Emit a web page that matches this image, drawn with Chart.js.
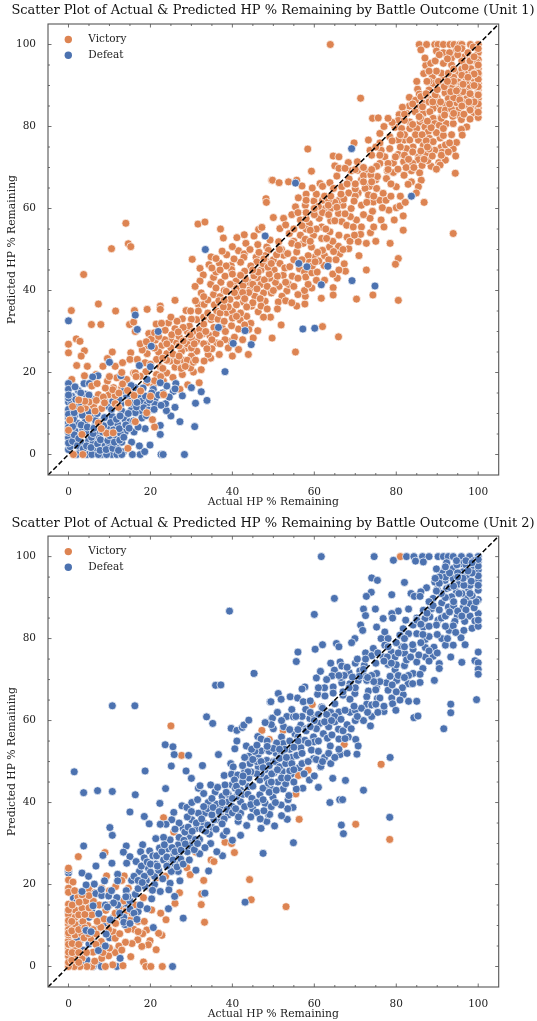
<!DOCTYPE html>
<html>
<head>
<meta charset="utf-8">
<script src="https://cdn.jsdelivr.net/npm/chart.js@4"></script>
<style>
	html, body { margin: 0; padding: 0; background: #fff; }
	canvas { position: absolute; left: 0; }
	#chart1 { top: 0; }
	#chart2 { top: 510px; }
</style>
</head>
<body>
<canvas id="chart1" width="537" height="511"></canvas>
<canvas id="chart2" width="537" height="511"></canvas>
<script>
const tickLabels = [0, 20, 40, 60, 80, 100];
const legendLabels = ['Victory', 'Defeat'];
const diagonal = [[-5, -5], [105, 105]];

// [actual, predicted] pairs
const unit1Victory = [
[14,56.4],[31.6,56.2],[33.3,56.7],[37.1,55],[37.8,52.8],[41.1,52.9],[42.9,53.6],[43.3,51.5],[45.3,53.3],[46.2,51.2],[46.4,54.9],[47.2,55.4],[14.6,51.4],[15.2,50.7],[10.5,50.2],[41.5,49.7],[42.9,48.9],[42.8,48.1],[45.8,48.1],[30.2,47.6],[48.4,50.6],[48.8,49.8],[48.2,62.4],[48.3,61.5],[49.6,66.9],
[63.9,100],[85.6,100],[87.4,100],[89.4,100],[90.2,100],[91.5,100],[93.1,100],[94.1,100],[95.5,100],[96,100],[98.1,100],[100,100],[86,98.7],[89.8,98.4],[91.5,98],[94.6,98.4],[100,98],[98.8,99.4],[93.5,96.7],[96.7,97],[100,96.3],[98.8,96.2],[87.2,94.9],[88.4,95.4],[86.7,92.9],[91.5,95.4],[93.5,95],[97.2,95.4],[99.6,95.7],[95.1,93.3],[97.2,93.3],[100,94.1],[98.2,94.1],[88.8,92],[89,90.5],[91.5,91.7],[93.1,91.7],[95.1,90.9],[97.2,91.3],[100,92.5],[98.8,91.7],[100,90.5],[97.6,89.3],[95.9,90.1],[93.5,89.7],[100,88.9],[85.2,89.1],[85.6,87.9],[88,88.9],[91.9,88.2],[95.5,88],[98.9,87.6],[100,86.8],[97.2,86.8],[94.7,85.8],[92.7,86.8],[83.2,87.1],[84.7,86.4],[88,86.7],[86.7,85.6],[83.2,85],[85.4,84.6],[89.8,85],[92,85.2],[97.2,85.2],[95.1,84],[71.3,86.9],[74.2,82],[75.6,82.1],[80.7,82.9],[82.5,83.2],[84.6,83.6],[86.6,83.2],[89,84.4],[88.2,83.6],[90.9,84],[89,82],[90.9,82.2],[95,82.8],[99,83.3],[100,82.2],[95.9,81.7],[80.5,81.5],[83.3,81.1],[85.8,81.1],[89.4,80.7],[92.2,80.7],[93.9,80.7],[90.5,80.3],[97.2,79.9],[95.9,79.3],[96.1,77.9],[93.5,78],[87,79.9],[87.8,78.7],[79.7,79.8],[81.3,79.5],[83.3,79.5],[85,79.5],[76,78.3],[78.4,77.5],[73.2,76.7],[69.7,76],[58.4,74.5],[82,76.7],[80.5,76.7],[83.3,76.7],[85.4,76.7],[88.1,77.1],[90.7,77.2],[89,76.3],[94.7,76.1],[84.1,75],[86.6,75.4],[90.9,74.9],[89.4,74.2],[93.9,74.5],[91.2,73.7],[94.5,72.8],[87.3,73.4],[85.4,72.6],[82.5,74.6],[80.5,73.2],[78.4,74.6],[76.3,74.2],[77.2,72.6],[73.6,74.2],[74,73],[64.6,72.8],[66,72.6],[68.3,71.2],[70.5,71.4],[65,70.4],[66,69.8],[76,71],[75.2,70.3],[79.3,71.1],[81.8,71.4],[85.4,71.9],[88.5,70.3],[90.4,71.2],[92,71.8],[90.7,70.6],[89.8,69.6],[94.4,68.6],[59.3,69.1],[72.8,69],[70.6,69.3],[77.8,69.2],[79.3,68.8],[81.9,68.1],[83.7,69.2],[85.7,68.7],[86.1,66.9],[83.7,66.5],[82.9,65.9],[85.4,65.3],[84.9,63.8],[86.8,61.5],[49.8,66.9],[51.4,66.3],[53.7,66.5],[55.7,66.9],[61.4,66.1],[62,65.4],[63.8,66.3],[65.5,67.9],[68.5,67.2],[71.5,67],[73.5,65.4],[75.2,64.9],[77.6,67.3],[80,65.3],[76.8,63.7],[66.7,65.3],[64.7,64.9],[68.4,63.8],[70.7,63.8],[72.4,64.9],[73.2,63.3],[56.1,62.6],[57.8,60.8],[59.9,61.8],[55.4,60.4],[62.6,60],[64,60],[67,60.8],[69,60],[71.5,60.8],[74.4,61.6],[76,62],[74.2,59.3],[78.2,59.6],[76.6,60.2],[80,60.2],[80.9,60.6],[81.7,58.2],[79.5,57.2],[76.3,57.2],[73.6,57.6],[70.3,57.2],[65.9,58.8],[68.8,58],[50,57.8],[52.5,57.6],[56.6,57.2],[61.2,57.6],[58.8,56.3],[64,57],[66.7,56.8],[67.9,55.9],[71.5,55.5],[61.8,55.5],[81.7,54.7],[73.7,54.1],[71.3,53.7],[93.9,53.9],[63.8,54.3],[53.9,53.9],[51.6,55.1],[56.6,53.5],[59.8,53.5],[61.8,52.7],[65.9,50.8],[68.4,50.2],[63.7,50.6],[59.3,50.6],[57.3,51.5],[70.7,51.9],[78.5,51.5],[51.3,51.9],[49.2,52.3],[52.5,48.6],[55.7,49.4],[60.2,48.2],[66.2,48.9],[70.9,48.5],[80.5,47.8],
[67.3,46.5],[67.6,44.7],[72.7,45],[79.8,46.4],[65.6,43],[64.6,40.7],[64.6,38.9],[74.3,38.9],[61.7,38.1],[70.3,37.9],[80.5,37.6],[59.4,40.6],[57.7,36.7],[57.8,38.6],[57.6,40],[55.7,36.2],[53.3,39.9],[52.1,38.6],[51.2,37.2],[49.5,39.4],[51.4,41],[50.5,42],[53.7,41.5],[54.6,43.5],[52.4,43.7],[50.2,45],[49.1,43],[51.6,46.6],[56.4,45.3],[57.6,44.5],[57.9,43.3],[59.4,44.3],[60.7,44.5],[62.4,46.1],[61.1,47.2],[56.4,47.2],[49.3,33.5],[51.9,31.6],[49.7,28.4],[62,31.2],[65.9,28.7],[55.4,25],
[3.7,43.9],[7.3,36.7],[0.7,35.1],[11.5,35],[5.6,31.7],[7.9,31.7],[0,26.9],[0,24.8],[1.9,28.2],[2.8,27.6],[3.9,25.3],[3.1,24],[2,21.7],[4.6,21.5],[10.7,25],[9.5,23.4],[8.4,21.5],[11.4,21.5],[13.2,22.4],[15.2,24.8],[15,23.2],[16.8,23.2],[16.1,35.1],[14.9,31.7],[15.9,32.3],[16.3,30],[19.2,35.4],[22.4,36.2],[22.4,35.4],[26,37.6],[19.6,29.5],[21.4,31.8],[32.1,45.4],[32.9,43.8],[34.3,46.3],[32.1,42.3],[30.9,41],[32.4,39.4],[34.7,41.5],[35.4,43.2],[37.2,42],[38.2,43.5],[39.7,46.1],[42,46.9],[39.8,45.1],[40.9,42.3],[43,44.7],[46.2,43.1],[44.3,40.2],[41.9,39.4],[35.4,39],[37,38.5],[39.4,37.8],[41.2,38.6],[45.5,38.6],[47.6,39.4],[48,37.4],[42.7,37.2],[44.7,36.2],[46.3,34.8],[47.6,33.5],[43.5,33.7],[41.9,32.8],[46.2,30.2],[45.1,28.4],[41.5,30.6],[43.9,24.4],[40,24],[39.6,27.6],[38.2,28],[39.8,31.4],[36.8,24.4],[34.7,23.5],[34.1,24.4],[33.1,22.8],[32.4,20.7],[30.5,20.1],[29.8,21.1],[31.9,17.5],[29.1,17],[27.8,19.5],[27.2,15.9],
[0.8,18.3],[3.9,19.2],[6.7,19.5],[9.5,17.9],[11,16.3],[11.8,18.7],[13.8,17.9],[15.9,19.9],[18.9,20.2],[0,10.6],[1.6,11.4],[19.2,24.6],[21.2,27.9],[22.8,26.6],[25,28],[26.4,27.2],[24.4,32.1],[26,30.7],[23.6,30.3],[27.8,33.1],[28.7,35.1],[31.3,32.9],[31.7,36.6],[33.1,36.6],[31.7,35],[36.2,35],[38.6,34.6],[34.8,32.9],[32.9,29.5],[34.5,29],[31.3,27.6],[28.5,28],[28.8,26],[27.6,25.2],[31.3,25.2],[33.7,26.8],[36.2,27.2],[24,24.6],[21.5,23.2],[22.4,21.4],[26,21.3],[27.2,22.4],[24.8,22.8],[17.5,19.1],[16.3,19.9],[21.5,19.5],[24,19.9],[18.7,22.4],[23.2,17.9],[20.7,16.7],[14.2,18.3],[13,16.3],[15.4,15.4],[19.1,17.5],
[37.5,36.5],[40.5,41],[44,42],[47,45],[48.5,47],[47,41.5],[36,44.5],[30,33],[29,30],[33,33.5],[35.5,31],[37.5,31],[40,35],[44,39.5],[46,47],[38,40],[28,23],[30,24],[22,25],[20,22],[25,26],[52,50],[55,52],[58,55],[60,59],[62,62],[66,62],[70,63],[72,68],[75,67],[78,71],[82,78],[86,82],[88,86],[92,90],[94,92],[96,94],[98,97],[90,87],[94,87],[92,84],[98,90],[96,86],[99,85],[100,84.5],[88,91],[91,93],[93,98],[96,99],[99,93],[100,88],
[23,21],[24,23],[26,24],[27,26.5],[29,27],[30,28.5],[25.2,29.2],[27,28.8],[29.5,31.3],[30.5,30],[32,30.5],[33,31.8],[34,34.5],[35,33.5],[36.5,33],[37,34.5],[35.6,36.5],[34,37.7],[33,38.5],[36,40.6],[38.5,39.8],[39.5,41.5],[41,40.5],[42.6,41.2],[43.2,42.8],[45,41.5],[46,40.4],[47.8,42.6],[48.5,41],[46.8,38],[45,37],[43.5,36],[41,36.5],[39,36],[37.8,36],[38,32.5],[40,33.3],[42,34.5],[44.5,32],[36,29.5],[38.3,30],[40.5,28.6],[42.5,28],[44,30.5],[30,26],[33,27],[35,25.8],[29,23],[26.5,22.8],[23.5,28],[21,26],[19.5,26.5],[18,25.5],[17.5,27],[20.2,28.2],[22.7,32],[25,33.5],[26.5,32.5],[28,31],[29.8,35],[31,37.5],[34.8,48.2],[36.8,46.7],[38.6,48.7],[40.4,47.7],[44.5,46],[47.5,46.5],[49,44],[48,48.5],[46.5,49.3],[44.3,50],[37.5,49.6],[40,50.7],[36,47.8],
[50,47.5],[50.8,48.7],[52.8,45.5],[54,45.8],[55,47.5],[53.5,49],[51.5,50],[54.5,51.5],[56,51],[57.8,52.5],[58.5,48.5],[57,47.5],[58.8,46.9],[59.5,46],[60.2,47],[62.5,48.5],[63.5,47.5],[64.7,49.5],[65.3,47.5],[67,50],[68,53],[66,53.5],[64.5,52],[63,52.7],[62.8,55],[60.5,55],[59,54.7],[58,57.5],[55,55],[53,56],[54.5,58.5],[56,59],[58,59],[60,58.5],[62,59],[63.5,58.5],[65,57],[67.5,58.7],[69.5,55.5],[72,58.5],[74.5,55.5],[77,55.5],[75,52],[72.7,51.5],[68.7,52],[69.8,53.5],[65,61.5],[67.2,62.3],[69.7,61.8],[72.8,61.5],[70,64.8],[74.5,63],[77.5,62],[78.7,63],[78.7,66],[81,63],[82.2,61.5],[75.4,67.8],[73.8,68.2],[72,70],[69,69.2],[67.5,69.8],[62.5,63],[60.5,63.5],[63.5,62],[58,63.5],[57,65.5],[59.5,65],
[78,69.5],[80.4,69.6],[82.4,70],[84,71],[86.3,70.5],[87.7,71.7],[84,73.8],[86,74],[88,74.5],[82,73],[76,76],[79,76.5],[81,78],[84.7,78],[86.3,78],[87.3,76.5],[89.8,78.5],[91.5,77.8],[92,75.5],[88.5,79.7],[91,82],[87.6,81.3],[85.6,82.4],[82,81.5],[79,81],[77,80],[78,82],[81.5,84.7],[84,85.5],[86,87.3],[87.3,88],[89.5,87.7],[90.8,86],[93.3,88.5],[94,91],[96.3,88.5],[96,92.5],[98.3,92.5],[92.7,93],[90.3,91],[91.7,89.7],[96,96],[92.5,96.5],[95,97.5],[97.5,98],[89.5,96],[100,99],[100,95],[100,93],[100,91.5],[100,89.7],[100,87.7],[100,85.5],[100,83.5],[99,86],[98,84],[96.5,83],[98,81.8],[93.5,84.2],[93.8,82.5],[91.8,82.8],[97,91],[99,90],[99,92.8],[95,89],[96.8,94.5],[98,96],[94,94],[87,96.7],
[21,18],[22.5,19],[25.5,18.8],[27.5,21],[28.5,21.5],[30.5,22.5],[31,23],[19,27.5],[21,29.7],[23,23.5],[25.5,24.5],[27,24],[28,27.7],[29.7,29.2],[30.7,27],[32,29],[33.5,30],[24,27],[22,28.8],[26.8,29.9],
[36.7,37.5],[38,37.6],[40.5,39.5],[42.5,39.5],[43,38],[45.3,43.6],[46.3,44.5],[48.7,45.7],[49.5,46.6],[47.7,47.7],[45,45],[42,43.7],[40,44],[38.5,46],[37,45],[35,45.5],[41,33.7],[43,31.6],[37,27],[35,28],[33.8,25.8],[39,26],[41.5,25.6],[47,36.2],[48.5,35.5],
[50,40],[51,43.5],[53,42],[55,41],[56,39],[56,43],[53,37.5],[51,35.5],[54.5,37],[58.5,41.5],[60.5,42.5],[62.5,42.5],[64.5,44],[66,45],[62,49.8],[60.8,49.3],[57,55.8],[59,52],[61,60.5],[63.4,60.8],[65.5,60.3],[58,62],[60,60],[66.5,63.5],[64,63],
[68,66],[70,66],[72,66.5],[74,66.5],[70,69.5],[74,69.5],[76,73],[75,75],[79.8,72.6],[81,75],[83,72],[84.3,70],[86.8,72],[88.8,72.8],[87.6,75],[84,80.5],[82,83],[86.4,84.8],[91.5,79.5],[93,76],[91,73],[92.7,73.8],
[88.9,86],[90,89],[93,85.5],[95.5,86.5],[94.7,88.7],[92.5,91],[89.8,93.5],[88,93.5],[87.5,91],[85,91],[90.5,97.5],[95,99],[99,97],[97.5,92],[96.3,90.3],[98,88],[97.7,86],[96,85],[94,83.2]
];
const unit1Defeat = [
[48,53.3],[33.4,50],[69.1,74.6],[55.4,66.2],[83.7,63],[61.7,41.4],[69.2,42.4],[74.8,41.1],[57.2,30.6],[60.1,30.8],[63.3,45.9],[58.2,45.8],[56.2,46.6],
[0,32.6],[16.3,34],[16.8,30.5],[21.9,30],[20.2,26.4],[36.6,31],[43.1,30.2],[44.6,26.8],[40.2,27.1],[38.2,20.2],[10,22.5],[17.3,21.7],[20,21.4],[12.8,19.2],[7.2,19.2],[5.9,18.9],[0,17.3],[3.8,17.3],[5.1,17.3],[2.4,15.6],[4.2,14.7],[0,15.9],[0,12.8],[2.4,11.7],[0,8.9],[0,7.7],[2.2,7.6],[4.2,8.3],[0,4.1],[0,1.2],[2.8,0.8],[4.9,3.3],[6.3,0.8],[7.3,4.5],[8.9,2.3],[10.6,0],[11.8,0],[13.4,0.7],[15.6,0],[17.5,0],[18.6,0.7],[17.3,2.1],[19.9,2.3],[22.6,0],[23.1,0],[28.3,0],[22.4,4.9],[22.4,7.1],[30.8,6.8],[27.2,8],[25,9.4],[23.9,10.7],[23.7,12.4],[26,11.5],[31,12.5],[33.8,13.2],[32.4,15.3],[30,16.3],[27.8,14.3],[26.2,17.3],[24,16.7],[22.4,17.5],[25.6,15.4],[20.7,15.9],[19.2,18.3],[16.3,16.3],[17.1,14.6],[21.1,13.4],[21.1,12.2],[17.9,13],[14.2,14.2],[17.7,10.7],[17.9,8.9],[13,10.6],[12,7.4],[10.6,9.3],[9.5,11.8],[13.9,5.6],[12.7,5.1],[11.8,2.4],[18.7,6.3],[15.4,11],[16.3,10.2],[19.1,12.2],[20.3,15],[13.8,8.5],[6.9,5.7],[9.8,6.3],[1.6,5.7],[0.8,2.4],[2,0],[4.5,0],[5.7,0],[8.1,0],[9.3,0],[13,0],[7.3,0],[11.4,3.7],[5.3,9.3],[0.8,14.2],[0.8,12.5],[0,11],[3,3],[6,3],[3.5,6],[8,8],[10,2.5],[13,3],[1.5,9.5],[6.5,7],[15,8],[16,5.5],[11,6],[15,13],[19,9.5],[23,15],
[0.4,1.9],[0,2.8],[0,5.4],[0,6.6],[0,9.8],[0,13.8],[0,14.5],[1,3.2],[1.4,4.8],[1,6.8],[1.2,8.7],[1.4,10.2],[1.8,13.4],[2.2,2.2],[2.5,3.9],[3.1,7.2],[3.4,9.6],[3,12.6],[3.6,1.4],[4.4,2.1],[4.3,5.2],[4.6,6.7],[5,10.5],[5.2,12.5],[5.5,1.7],[5.6,4.2],[6,5.1],[6.2,6.4],[6.6,8.3],[7,10],[7.1,2.6],[7.7,1],[7.8,3.6],[8.3,5.5],[8.6,7],[8.8,9],[9.2,1.2],[9.6,3.4],[10,4.6],[10.3,7.8],[10.5,11],[10.8,1.5],[11.2,3],[11.7,8.6],[12.2,1],[12.5,3.5],[12.4,6.3],[12.6,9.4],[12.8,12.3],[13.5,4.2],[14,7.2],[14.6,10],[14.8,6.4],[15.4,3],[15.3,12.5],[15.9,8.2],[16.6,11.6],[16.7,12.7],[17,6.7],[18.4,11.4],[18.8,14.2],[19.6,10.8],[19.8,13.3],[20.9,11],[22,14.5],[22.6,12],[24.6,14],[26,16],[18.2,16.2],[15.3,16.8],[13.6,15.6],[12.4,13.4],[10.8,13],[8.8,13],[6.6,13.5],[5,14.5],[3,15],[1.6,16.5]
];
const unit1VictoryTop = [
[16.3,8],[21,6.7],[20.5,8.5],[19.1,10.2],[20,14.2],[14.5,1.5],[3.3,4.9],[0,5.9],[9.3,5.2],[10.9,5.3],[1.2,0],[3.5,0],[7.3,14.6],[4.1,11.4],[6.1,11.8],[8.1,11.2],[6.5,10.6],[11.4,12.4],[9.9,14.6],[11.4,14.4],[14.6,12.6],[7.3,7.7],[5.7,16.7],[23.2,14.6],[16.5,19],[13,20],[10,19],
[5,12.8],[6.8,13.2],[8.5,14],[10.8,15.8],[12.3,15],[13.2,17.2],[14.4,15.6],[9,16.2],[7,17.3],[8.8,12.6],[4,13],[3,11],[12.2,11.5],[16,14.4],[17.6,15.5],[2.5,13.3],[5,8.8],[8,6.3],[1,11.7],[0.3,8.4]
];

const unit2Defeat = [
[39.3,86.7],[45.3,71.5],[10.7,63.6],[16.2,63.6],[35.9,68.6],[37.2,68.7],[33.7,60.9],[35.2,59.3],[39.7,58.1],[41.1,57.6],[42.4,58.3],[42.8,58.9],[44,60.1],[49.2,64.6],[49.6,60.5],[46.2,56.1],[41.1,55],[40.6,53.1],[43.4,53.8],[23.6,54.1],[25.5,53.6],[25.8,51.7],[29.3,51.5],[36.6,51.7],[44.1,51.3],[46.3,51.7],[47,52.6],[48.6,52.8],[39.6,49.5],[32.7,49],[25.1,48.9],[1.4,47.5],[18.7,47.7],[28.7,47.7],[40.2,48.7],[44.3,49.5],[46.3,48.7],[48.4,50.3],
[3.7,42.4],[7.1,42.9],[10.7,42.7],[16.3,41.9],[15,37.7],[18.5,36.6],[19.7,34.8],[10.1,33.9],[10.7,32],[3.7,29.4],[30,45.9],[23.7,43.4],[22.3,39.8],[25.7,37.6],[27.7,39.2],[28.9,38.8],[30.1,40],[31.5,40.7],[31.7,43.5],[32.1,44.1],[34.7,44.3],[35.8,42.6],[38,46.6],[39.8,46.9],[41.3,46.7],[39.9,44.3],[38.2,44.3],[40.7,43.5],[43.5,45.9],[45.1,47.2],[46.7,45.5],[48.4,45.9],[46.7,41.9],[48,39.8],[43.9,43.9],[42,40.2],[39,40.2],[36.2,39.6],[34.1,40],[42,37.4],[39,37],[36.6,35.8],[33.3,37.4],[31.7,37.4],[30.1,35.8],[28,33.7],[25.2,35.8],[23.8,34.7],[22.4,34.7],[41.4,35.4],[43.5,34.4],[47,33.7],[48.4,35.4],[48.8,37],[42,32],[40,30.8],[37.8,32],[34.4,32.3],[34.7,30],[33.3,29],[31.3,33.7],[29.7,31.7],[26.8,29.7],[24.8,30.9],[23.2,31.5],[21.3,31.2],[18.1,29.7],[24.2,28.7],[22.2,28.9],[19.8,28.2],[17.6,28],[14.1,29.4],[13.4,27.9],[15,26.8],[14.2,25.2],[16.5,25.6],[8.4,27.1],[10.6,25.2],[6.7,24.5],[3.3,22.8],[4.9,22],[12,22.5],[17.3,23.2],[19.5,24],[21.3,25],[23.2,26],[25.7,27.2],[26.8,23.2],[25.1,23.2],[27.2,20.9],[24.8,20.3],[22.4,18.3],[25.9,17.1],[24.4,14.1],[28,11.8],[31.1,23.5],[34.2,23.3],[33.3,17.9],[37.6,27],[36.2,28],[47.5,27.6],[43.1,15.7],[32,27.5],[12,20.9],[8.8,20.9],[6.3,20.1],[4.3,19.9],[3.3,18.3],[6.7,17.8],[8.1,17.3],[9.8,17.2],[11.8,16.8],[14.1,18.5],[16.3,17.6],[20.3,16.5],[19.2,14.1],[17,13.4],[7.4,12.9],[10.2,11.4],[13.8,10.2],[4.3,8.8],[9.2,7.9],[20.7,9.5],[7.3,3.9],[12.6,2],[25.4,0],
[61.5,48.7],[64.5,45.9],[67.6,45.4],[72,43],[61,43.7],[63.8,40],[66.2,40.7],[66.9,40.7],[78.4,36.4],[66.6,34.5],[67.1,32.4],[54.9,30.2],[53.4,35.9],[52,36.8],[50.3,34.3],[49.1,37.1],[54.8,38.8],[53.5,38.5],[51.9,39.4],[53.6,40.7],[49.9,41.3],[53.8,41.7],[57.2,43.5],[55.6,43.3],[52.4,43.3],[53,44.6],[51.1,45],[49.3,43.5],[54.3,46.9],[52.2,47.6],[50.1,47.2],[56.1,48.5],[54,47.7],
[61.7,100],[74.6,100],[79.3,99.1],[82.5,100],[84.3,100],[86.4,100],[88,100],[90.2,100],[91.5,100],[92.7,100],[93.9,100],[95.9,100],[97.9,100],[100,100],[84.7,98.9],[86.6,98.7],[92.3,98.5],[95.9,98.3],[100,98.7],[91.9,96.9],[93.9,97.1],[98.4,97.1],[100,96.7],[91.3,96],[96.3,96.3],[74,94.8],[75.4,94.2],[82,93.7],[89.4,93.8],[91.9,94.2],[93.9,94.6],[97.3,95.2],[100,94.1],[95.3,93.3],[97.6,92.2],[100,91.8],[92.3,92.2],[94.7,91.4],[87.4,92.4],[86,91.4],[83.6,91],[84.4,90.3],[85.8,90.3],[73.9,91.3],[72.7,90.3],[78.9,90.7],[64.9,89.8],[91.1,88.7],[89,89.8],[93.5,90.2],[97.2,90],[100,89.5],[98,88.5],[96.3,87.5],[92.7,87.7],[88.6,87.3],[86.6,86.9],[72,87.2],[74.9,87.2],[72.5,85.6],[60,85.9],[80.5,86.7],[83,87.2],[78.9,86.1],[79.1,85],[76.8,84.9],[82.3,84.5],[100,86.1],[98,85.5],[94.9,85.5],[99.2,84.3],[96.7,84.2],[94.3,84.2],[90.2,84.5],[88.2,85.3],[87,84.9],[89.8,83.3],[92.9,82],[93.9,83.1],[86.6,82.8],[84.1,83.3],[75.2,82.8],[71.3,83.3],[71.8,82],[77.2,81.6],[81.7,82.4],[76.3,80],[78,80],[80.9,80.8],[83,81.2],[85,81.2],[87.1,79.8],[91.1,80],[95.8,80.2],[69.9,80],[69.1,79],[62,78.5],[60.2,77.4],[65.4,78.8],[66,78],[56,76.7],[55.6,74.4],[92,78.4],[93.9,78.4],[96.8,78.5],[89.2,77.9],[100,76.7],[93.3,75.5],[89,75.7],[87.1,77.8],[84.1,77.4],[81.3,78],[78.8,76.7],[77.2,78.4],[74.4,77.6],[72.5,76.5],[74,75.8],[76.8,75.5],[79.7,75.5],[82.1,76.3],[87.1,75.5],[85,74.3],[90.5,73.9],[96,74.2],[99.2,74.6],[100,74.1],[100,72.5],[100,71.3],[90.5,72.7],[86.5,72.7],[82,73.4],[79.7,72.4],[78,73.7],[66.3,74.3],[66.7,73.3],[72.2,73.5],[71.1,72.1],[75.2,71.5],[68.5,71.7],[64.9,72.3],[60.5,70.4],[64.3,70.9],[84.1,71.5],[85.8,71.3],[82.9,69],[80.1,69.8],[89.3,69.8],[85.8,69.3],[77.6,69.2],[75.2,68.2],[72.8,69.8],[70.7,69.8],[68.7,69],[66.7,69.2],[64.6,68.2],[57.7,68.2],[57,67.7],[51.2,66.6],[51.9,65.2],[54.1,65.8],[49.4,64.6],[55.9,65.5],[57.3,64.6],[60.8,66.4],[62.6,66],[64.6,66.7],[67,66.2],[69.9,66.6],[73.2,67.2],[78,67.4],[81.7,66.3],[83,64.7],[85,64.7],[72.8,65.8],[75.4,65.4],[78.9,65.5],[80.9,65],[79.1,64.1],[79.9,62.5],[72.8,64],[68.7,65.2],[65,64.1],[61.8,63.3],[57.9,62.7],[54.5,62.7],[77,62.2],[68.7,62],[66,62.1],[93.3,64],[93.3,61.9],[99.6,65.1],[84.3,60.7],[85.3,61.1],[91.6,58],[73.7,58.7],[53.3,61],[54.9,60.9],[49.8,60.6],[58.9,60.5],[63.2,60.5],[65,59.7],[61.3,59.3],[56.7,58.9],[52.5,58.5],[50,58],[65.9,57.9],[59.8,56],[62.2,56.8],[55.3,56.7],[57.7,55.2],[52,56],[68.3,56],[70.1,55.4],[63.2,55.7],[70.7,53.8],[63.9,53.8],[66.3,51.7],[68,52],[70.4,51.8],[78.5,51],[59.3,52.8],[56.7,53.4],[52.4,54.4],[50.7,52],[54.4,51],[59.8,50.7],[61.6,48.8],[56.3,48.5],
[44,46],[46,50],[48,48],[50,50],[52,52],[54,55],[56,56],[58,58],[60,61],[62,63],[64,62],[67,67],[70,68],[72,71],[75,74],[78,78],[80,79],[82,80],[85,85],[88,89],[90,92],[92,95],[95,96],[97,98],[99,99],[98,93],[96,91],[94,88],[91,85],[30,30],[32,31],[35,34],[37,37],[33,35],[29,28],[27,27],[25,25],[21,22],[19,21],[17,19],[15,16],[38,36],[40,39],[42,43],[45,44],[47,47],
[15.4,21],[16,22],[17.8,24.5],[18.5,26.5],[19.2,25.5],[20.6,27],[21.5,27],[22.8,28],[23.4,29.7],[25.3,29],[26,28],[27,31.5],[28.2,30.8],[28.4,32.8],[29.2,34],[30.2,33],[31,31],[27.4,26.2],[26,25],[24,24.5],[22,23.5],[20,23],[18.5,22],[21,20],[23,21.4],[24.5,18.7],[20.5,18.6],[18.7,19.5],
[31.2,35],[32.6,33.5],[33.5,33],[34,34.5],[35.5,35.8],[36,33.5],[37.5,34.8],[38.6,33],[37.5,38.5],[38.7,38.3],[40,37.5],[40.8,38.5],[41,41.4],[42.6,42],[43.8,42],[44.8,41],[45,38.5],[46,37.6],[46.8,36],[47.7,38],[47.5,43.5],[49,42.5],[48.8,44.7],[46,47],[44.5,47.5],[43,47.5],[42.5,49],[47,50],[49,49],[45.5,52.5],[44.7,53],[34,38.5],[35,41],[36.4,43.7],[37.5,41.5],[39,42],[40.5,45.5],[33,42.2],[29,36.5],[27,35],[26,33.5],
[50.5,50],[51.5,48.7],[53,49.5],[54.5,49.5],[55,48],[57,49.5],[58.5,50],[60.5,50.5],[61,52.5],[62.5,51],[63.5,52],[60,54.8],[58.5,54.5],[56,55],[54,53],[52.8,53],[50.8,54.5],[49,52.5],[51.5,50.8],[55.7,51.5],[54,57.8],[56,57.8],[58,57.5],[60.5,58],[63.5,58.5],[64.3,56.5],[66,55.5],[67,57.5],[68,59],[70,60],[72,60],[74,61],[75.5,62],[70,62.5],[71.5,63],[74,63.8],[76,65.5],[75,67.5],[76,69.5],[78.5,70.8],[80.5,71],[81.5,68],[83,71],[80,73.6],[82.5,74.8],[77.8,75.5],[74,71],[72,72.5],[70,74],[68,73],[66.5,70.5],[68.5,68],[62.5,68],[61,68],[63,70],[59,64.8],[61,61.5],[63,61.5],[65,61],[59,62],[57,61],[55.5,61],[51,62],[52,60],[49.5,59],[48,59.5],[47,55.5],[48.5,55],[50,53.2],
[84,78.5],[86,79],[88,80.5],[90,81],[92.5,80],[94.5,81.5],[96.5,82],[98.5,82.5],[100,83],[100,84.5],[86.5,81],[85,84.5],[87.5,86.2],[89,88],[90.5,87],[92,85.5],[93,86.5],[95,86.7],[97,87],[99,87.5],[99.5,89],[98.5,90.5],[96.5,89],[94,89],[92,90],[91,91],[89.8,91.6],[93,92.5],[95.3,91],[96.5,93],[98.3,94],[100,93],[100,95.3],[98.5,96],[96.3,94.7],[95,95],[93,96],[90.5,95],[92,97.5],[94.8,98],[97,99],[100,97.7],[100,99.3],[98.5,98.5],[90.5,93.5],[89.8,97],
[12,15],[13.5,12],[15,14],[16,13],[14.5,17],[11,15.5],[9,15],[6,14.8],[8,18.8],[10.5,18.5],
[17,21],[18,20.5],[20,25],[21.7,24.5],[24,26.7],[25.5,26],[26.5,24.3],[28,25],[29.5,26],[29.6,29.5],[30.7,28.5],[31.5,30],[27.5,28.4],[28.5,29.9],[30,37.8],[32.5,36],[33,39],[35,37],[35.3,38.8],[36.8,37.8],[37.5,40],[38.5,42.5],[41,44],[42.5,45],[43.8,47.5],[41.5,42.5],[40,41],[41.5,36.5],[43,39],[44.5,39.5],[44.5,36.5],[46,40],[47.5,40.7],[49.5,39],[50.5,40],[49.5,45],[50.7,43],[47.5,48.5],[45,50.5],[43,51],[42.6,46.5],[49.6,47],[51,48],[52,46],[53.5,46],[55,45],[57.5,47],[58.8,45.5],[60,46.5],[62,50],[64,49.5],[65,51],[66,53],[67.5,55.6],[69,58],[61,55],[57,52],[55,53.5],[53.2,51],[51.5,53],[48.5,53.7],[46,54],[60,60],[59,58.5],[62.5,59.7],[64.2,60],[66.5,60.3],[67.5,62.5],[69.7,63.5],[70.5,61],[73,62],[75,64],[77,63.5],[74.5,69.5],[73,70.5],[71,70.8],[69.3,70.6],[67.3,71],[66,71],[64,74],[61.5,72],[70.5,75],[72.5,75],[75.5,76.5],[77,74.5],[78.8,74],[80.5,76.5],[82,78],[83.5,75.5],[85.5,76],[88,77],[90,76.5],[88,74.5],[82,70.5],[84,69],[79,68.7],[80,67],[86,83.5],[88,83],[92,83],[96,85.5],[94,92.8],[97.5,96.5],[94.7,99],[89.5,94.7],[98,91],
[9.5,14.5],[12.5,13],[13.5,10.8],[16.7,11.5],[15,10.5],[14,17],[17.5,15],[9,5],[5.5,8.5]
];
const unit2Victory = [
[25,58.7],[47.2,57.6],[49,55.4],[27.6,51.5],[81,100],[59.5,63.9],[67.3,54.2],[52.4,57.6],[76.3,49.3],[58.5,47.9],[57,46.9],[56.1,46.6],[55.5,42.1],[56.3,35.9],[70.1,34.7],[78.4,31],[53.1,14.6],
[2.4,26.8],[8.9,27.8],[0,24],[0,21.1],[1.1,20.6],[9.3,22.1],[13.6,22.1],[0,19.1],[0,18.1],[5,18.9],[8.1,19.1],[14.6,19.1],[17.2,20.9],[19.1,21.2],[21.3,21.5],[23.7,22],[2.3,17],[4.2,16],[6.1,15.9],[0,15.2],[18.3,16.8],[15.2,16],[20,19.1],[23.2,36.3],[22.5,34.7],[25.7,32.8],[31.1,27.9],[34.8,26],[35.5,25.6],[38.2,30.3],[39.8,30],[40.5,27.8],[28.9,24.1],[29.7,22.4],[33,21],[32.5,17.7],[32.4,15.1],[33.2,10.8],[27.1,18],[26,15.4],[44.2,21.2],[44.6,16.3],[20.3,13.8],[22.5,13],[23.8,11.4],[22.8,7.6],[22,8.1],[19.9,6.3],[19.1,8.9],[18.1,8],[21.4,4.1],[19.5,5.3],[17.9,4.9],[16.9,6.5],[15.5,5.6],[13.9,5.9],[12.3,5],[11.4,3.4],[15.2,2.4],[18.3,1.1],[18.9,0],[20.1,0],[22.9,0],[13.3,0.2],[10.8,0.4],[9,0],[5.7,0],[4.5,0],[2.8,0],[1.4,0],[0,0],[9.8,2.6],[8.1,2],[5.4,6.9],[7.7,5],[11,8.4],[11.4,6.9],[7.9,9.6],[4.7,10],[1.6,10.3],[0,10.3],[0,6.3],[0,4.5],[0,7.7],[0,12.6],[1.6,13.8],[1.6,12],[3.3,14.2],[9.1,13.7],[11.4,13],[15.1,11.4],[15.9,9.1],[8,6.1],[3.5,11],[5.7,12.6],[12.4,14.2],[1.6,4.5],[3.3,2],[1.6,7.7],[0,2.5],[0,9],[3.2,8],[6,9],[10,11],[13,12],[14.5,9],[6,3.5],[1.5,2],
[0,1],[0,3.5],[0,5.4],[0,8.2],[0,11.2],[0,13.8],[0.8,1.5],[0.9,3.4],[0.9,5.6],[0.8,8.7],[0.8,11],[0.9,15],[2.5,1],[2.5,3.4],[2.5,5.4],[2.5,9],[2.5,12.6],[2.6,15.7],[3.8,7],[4,9.4],[4,12.7],[4.4,3.4],[4.9,8],[5,14.3],[6.4,1.3],[6.7,5.4],[6.8,7.9],[7,11],[7.5,15],[8.4,3.4],[8.7,11.6],[9.8,9],[10,4.5],[10,15],[11.5,10.5],[12.5,8],[13,4],[13.5,16],[14,13.5],[15.5,13],[16.3,15],[17,11],[18.5,11],[17,8.5],[6.4,18],[5,17.3],[3.3,17.5],[1.5,18.5],[10,18.5],[11.5,19.5],[13,21]
];
const unit2DefeatBack = [
[0,22.8],[0,23.5],[0,13.4],[2.8,6.3],[4.5,1.6],[11.8,0],[1.2,16.7],[2,15.7],[5.7,13.4],[2.4,9.3],[14.2,15],[13,14],[7,1],[3.5,4],[8,0],[6,0],[5,5.5],
[1,5],[2,7],[3,10.5],[4,3],[5,12],[6,6],[7,9],[8,4],[9,10],[10,7],[11,12],[12,4],[3,1],[1,12],[4,7],[2,4]
];

const orange = '#DD8452';
const blue = '#4C72B0';
const legendColors = [orange, blue];
const serif = '"DejaVu Serif"';
const textColor = '#222';

// inward ticks on all four sides, the frame and the legend inside the plot
const frameTicks = {
	id: 'frameTicks',
	afterLayout(chart) {
		// the title is wider than the plot, centre it over the plot
		chart.titleBlock.left = 0;
		chart.titleBlock.right = 546;
	},
	afterDatasetsDraw(chart) {
		const { ctx, chartArea: a, scales } = chart;
		ctx.save();
		ctx.strokeStyle = '#4d4d4d';
		ctx.lineWidth = 0.8;
		ctx.beginPath();
		scales.x.ticks.forEach((t, i) => {
			if (t.value <= -5 || t.value >= 105) return;
			const px = scales.x.getPixelForTick(i);
			const len = t.value % 20 === 0 ? 3.5 : 2;
			ctx.moveTo(px, a.bottom); ctx.lineTo(px, a.bottom - len);
			ctx.moveTo(px, a.top); ctx.lineTo(px, a.top + len);
		});
		scales.y.ticks.forEach((t, i) => {
			if (t.value <= -5 || t.value >= 105) return;
			const py = scales.y.getPixelForTick(i);
			const len = t.value % 20 === 0 ? 3.5 : 2;
			ctx.moveTo(a.left, py); ctx.lineTo(a.left + len, py);
			ctx.moveTo(a.right, py); ctx.lineTo(a.right - len, py);
		});
		ctx.stroke();
		ctx.lineWidth = 1.1;
		ctx.strokeStyle = '#555';
		ctx.strokeRect(a.left, a.top, a.right - a.left, a.bottom - a.top);

		ctx.font = '10.5px ' + serif;
		ctx.textBaseline = 'middle';
		legendLabels.forEach((name, i) => {
			const y = a.top + 15.5 + i * 15.7;
			ctx.fillStyle = legendColors[i];
			ctx.beginPath();
			ctx.arc(a.left + 20.3, y, 3.7, 0, Math.PI * 2);
			ctx.fill();
			ctx.fillStyle = textColor;
			ctx.fillText(name, a.left + 40.3, y);
		});
		ctx.restore();
	}
};

function pts(list) {
	return list.map(p => ({ x: p[0], y: p[1] }));
}

function markers(label, list, color) {
	return {
		label: label,
		data: pts(list),
		pointRadius: 4,
		pointHoverRadius: 4,
		backgroundColor: color,
		borderColor: '#fff',
		borderWidth: 0.7
	};
}

function makeChart(id, title, layers, titleTop, titleBottom, xHeight, xTitleBottom) {
	const line = {
		label: 'diagonal',
		data: pts(diagonal),
		showLine: true,
		borderColor: '#000',
		borderWidth: 1.5,
		borderDash: [5, 2.5],
		pointRadius: 0
	};
	return new Chart(document.getElementById(id), {
		type: 'scatter',
		data: { datasets: [line].concat(layers) },
		plugins: [frameTicks],
		options: {
			responsive: false,
			animation: false,
			layout: { padding: { right: 38.3, left: 0, top: 0, bottom: 0 } },
			plugins: {
				tooltip: { enabled: false },
				legend: { display: false },
				title: {
					display: true,
					text: title,
					color: '#111',
					font: { family: serif, size: 13, weight: 'normal', lineHeight: 1.2 },
					padding: { top: titleTop, bottom: titleBottom }
				}
			},
			scales: {
				x: {
					type: 'linear',
					min: -5,
					max: 105,
					afterFit: s => { s.height = xHeight; },
					grid: { display: false },
					border: { display: false },
					title: { display: true, text: 'Actual HP % Remaining', color: textColor, font: { family: serif, size: 10.8 }, padding: { top: 1, bottom: xTitleBottom } },
					ticks: {
						stepSize: 5,
						autoSkip: false,
						maxRotation: 0,
						color: textColor,
						padding: 3,
						font: { family: serif, size: 10.5 },
						callback: v => tickLabels.includes(v) ? String(v) : ''
					}
				},
				y: {
					type: 'linear',
					min: -5,
					max: 105,
					afterFit: s => { s.width = 48; },
					grid: { display: false },
					border: { display: false },
					title: { display: true, text: 'Predicted HP % Remaining', color: textColor, font: { family: serif, size: 10.8 }, padding: { top: 5.5, bottom: 0 } },
					ticks: {
						stepSize: 5,
						autoSkip: false,
						color: textColor,
						padding: 4,
						font: { family: serif, size: 10.5 },
						callback: v => tickLabels.includes(v) ? String(v) : ''
					}
				}
			}
		}
	});
}

makeChart('chart1', 'Scatter Plot of Actual & Predicted HP % Remaining by Battle Outcome (Unit 1)', [
	markers('Victory', unit1VictoryTop, orange),
	markers('Defeat', unit1Defeat, blue),
	markers('Victory', unit1Victory, orange)
], 3.2, 5.2, 36, 2.5);

makeChart('chart2', 'Scatter Plot of Actual & Predicted HP % Remaining by Battle Outcome (Unit 2)', [
	markers('Defeat', unit2Defeat, blue),
	markers('Victory', unit2Victory, orange),
	markers('Defeat', unit2DefeatBack, blue)
], 5.5, 5, 34, 0.5);
</script>
</body>
</html>
